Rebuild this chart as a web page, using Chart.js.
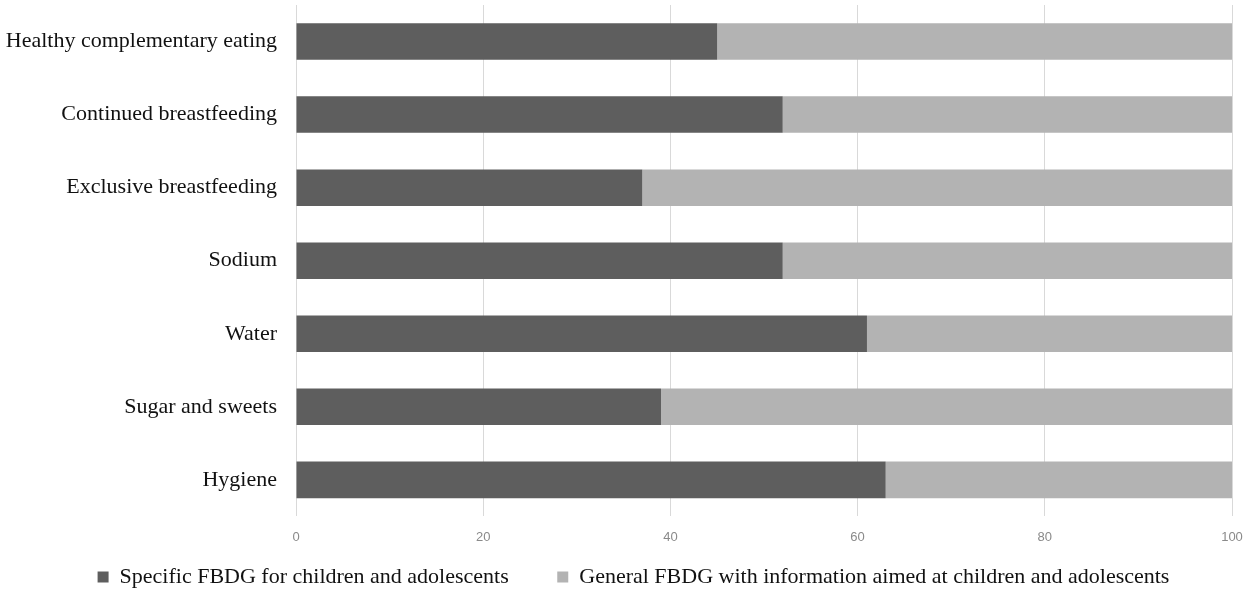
<!DOCTYPE html>
<html>
<head>
<meta charset="utf-8">
<script src="https://cdn.jsdelivr.net/npm/chart.js@4"></script>
<style>
  html, body { margin: 0; padding: 0; background: #fff; }
  #wrap { width: 1248px; height: 592px; position: relative; }
</style>
</head>
<body>
<div id="wrap"><canvas id="chart"></canvas></div>
<script>
const categories = [
  'Healthy complementary eating',
  'Continued breastfeeding',
  'Exclusive breastfeeding',
  'Sodium',
  'Water',
  'Sugar and sweets',
  'Hygiene'
];
const specificValues = [45, 52, 37, 52, 61, 39, 63];
const generalValues = [55, 48, 63, 48, 39, 61, 37];
const seriesNames = [
  'Specific FBDG for children and adolescents',
  'General FBDG with information aimed at children and adolescents'
];
const xTicks = [0, 20, 40, 60, 80, 100];

const serif = '"Liberation Serif", "Times New Roman", serif';

// nudge the legend so its row is centred where the original has it
const legendShift = {
  id: 'legendShift',
  afterLayout(chart) {
    chart.legend.left += 15;
    chart.legend.right += 15;
  }
};

new Chart(document.getElementById('chart'), {
  type: 'bar',
  data: {
    labels: categories,
    datasets: [
      {
        label: seriesNames[0],
        data: specificValues,
        backgroundColor: '#5e5e5e',
        borderWidth: 0,
        barPercentage: 0.5,
        categoryPercentage: 1
      },
      {
        label: seriesNames[1],
        data: generalValues,
        backgroundColor: '#b3b3b3',
        borderWidth: 0,
        barPercentage: 0.5,
        categoryPercentage: 1
      }
    ]
  },
  options: {
    indexAxis: 'y',
    responsive: true,
    maintainAspectRatio: false,
    animation: false,
    layout: { padding: { top: 5, right: 16, bottom: -6, left: 5 } },
    scales: {
      x: {
        stacked: true,
        min: 0,
        max: 100,
        afterBuildTicks: axis => { axis.ticks = xTicks.map(v => ({ value: v })); },
        afterFit: axis => {
          axis.height -= 13;
          axis.paddingLeft = 0;
          axis.paddingRight = 0;
        },
        grid: { color: '#d9d9d9', drawTicks: false },
        border: { display: false },
        ticks: {
          padding: 13,
          color: '#8a8a8a',
          font: { family: '"Liberation Sans", Arial, sans-serif', size: 13 }
        }
      },
      y: {
        stacked: true,
        grid: { display: false, drawTicks: false },
        border: { display: false },
        afterFit: axis => {
          axis.paddingTop = 0;
          axis.paddingBottom = 0;
          axis.width = 291;
        },
        ticks: {
          padding: 19,
          color: '#111',
          font: { family: serif, size: 22 }
        }
      }
    },
    plugins: {
      legend: {
        position: 'bottom',
        labels: {
          boxWidth: 11,
          boxHeight: 11,
          padding: 21,
          color: '#111',
          font: { family: serif, size: 22 },
          generateLabels: chart => {
            const items = Chart.defaults.plugins.legend.labels.generateLabels(chart);
            // widen the gap between the two entries
            items[0].text = items[0].text + '\u00a0\u00a0\u00a0\u00a0\u00a0';
            return items;
          }
        }
      },
      tooltip: { enabled: false }
    }
  },
  plugins: [legendShift]
});
</script>
</body>
</html>
